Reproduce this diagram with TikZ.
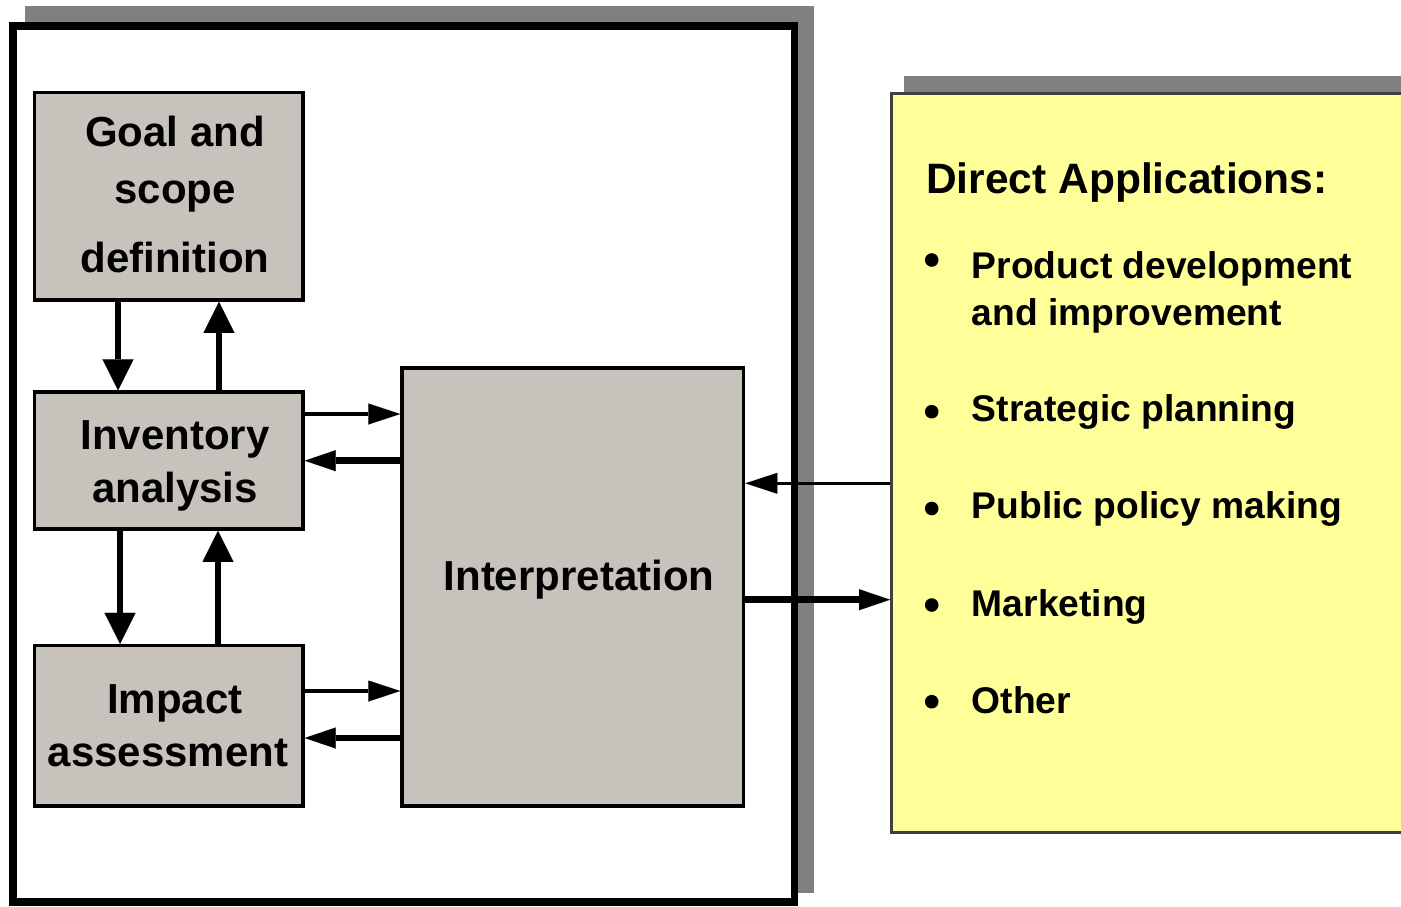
\documentclass[tikz,border=0pt]{standalone}
\usepackage{fontspec}
\setmainfont{Liberation Sans}
\usetikzlibrary{arrows.meta}
\definecolor{boxgray}{RGB}{200,194,189}
\definecolor{shade}{RGB}{128,128,128}
\definecolor{note}{RGB}{255,255,153}
\definecolor{noteedge}{RGB}{64,64,64}

\begin{document}
\begin{tikzpicture}[x=1pt,y=-1pt,
  stagebox/.style={draw=black, line width=3.5pt, fill=boxgray, rectangle, inner sep=0pt},
  boxtext/.style={inner sep=0pt, anchor=base},
  apptext/.style={inner sep=0pt, anchor=base west, font=\fontsize{37.2}{47}\selectfont\bfseries},
  vflow/.style={line width=6.5pt, -{Triangle[length=31pt,width=31pt,line width=0.01pt]}},
  hthin/.style={line width=3.5pt, -{Triangle[length=32pt,width=21pt,line width=0.01pt]}},
  hthick/.style={line width=6.5pt, -{Triangle[length=31pt,width=21pt,line width=0.01pt]}},
  dot/.style={fill=black}
]
\useasboundingbox (0,0) rectangle (1401,906);
\clip (0,0) rectangle (1401,906);
\fill[white] (0,0) rectangle (1401,906);

% framed LCA method panel with its drop shadow
\node[fill=shade, rectangle, inner sep=0pt, minimum width=789pt, minimum height=887pt] (frameshadow) at (419.5,449.5) {};
\node[draw=black, fill=white, line width=7.5pt, rectangle, inner sep=0pt, minimum width=781.5pt, minimum height=876pt] (frame) at (403.75,464) {};

% applications note with its drop shadow
\node[fill=shade, rectangle, inner sep=0pt, minimum width=506pt, minimum height=740pt, anchor=north west] (noteshadow) at (904,75.7) {};
\node[draw=noteedge, fill=note, line width=2.5pt, rectangle, inner sep=0pt, minimum width=520pt, minimum height=739pt, anchor=north west] (note) at (890,92) {};

% phase boxes
\node[stagebox, minimum width=268.5pt, minimum height=207.5pt] (goal) at (168.75,196.25) {};
\node[stagebox, minimum width=268.5pt, minimum height=137pt] (inv) at (168.75,460.5) {};
\node[stagebox, minimum width=268.5pt, minimum height=160.5pt] (impact) at (168.75,725.75) {};
\node[stagebox, minimum width=341.7pt, minimum height=438pt] (interp) at (572.85,587) {};

% phase labels
\node[boxtext, font=\fontsize{42}{57}\selectfont\bfseries] (goaltxt) at (175,146.7)
  {\begin{tabular}[t]{@{}c@{}}Goal and\\ scope\\[12pt] definition\end{tabular}};
\node[boxtext, font=\fontsize{42}{53}\selectfont\bfseries] (invtxt) at (175,449)
  {\begin{tabular}[t]{@{}c@{}}Inventory\\ analysis\end{tabular}};
\node[boxtext, font=\fontsize{42}{52.5}\selectfont\bfseries] (impacttxt) at (175,713.5)
  {\begin{tabular}[t]{@{}c@{}}Impact\\ assessment\hspace*{14pt}\end{tabular}};
\node[boxtext, font=\fontsize{42}{50}\selectfont\bfseries] (interptxt) at (579,590) {Interpretation};

% applications list
\node[inner sep=0pt, anchor=base west, font=\fontsize{42.5}{50}\selectfont\bfseries] (title) at (926,193) {Direct Applications:};
\node[apptext] (app1) at (971.7,278) {\begin{tabular}[t]{@{}l@{}}Product development\\ and improvement\end{tabular}};
\node[apptext] (app2) at (971.7,421.7) {Strategic planning};
\node[apptext] (app3) at (971.7,518.3) {Public policy making};
\node[apptext] (app4) at (971.7,616.7) {Marketing};
\node[apptext] (app5) at (971.7,713.3) {Other};
\fill[dot] (931.7,260) circle[radius=6.8];
\fill[dot] (931.7,411.7) circle[radius=6.8];
\fill[dot] (931.7,508.5) circle[radius=6.8];
\fill[dot] (931.7,605) circle[radius=6.8];
\fill[dot] (931.7,701.7) circle[radius=6.8];

% guide coordinates for the connectors
\coordinate (xa) at (118,0);
\coordinate (xb) at (219,0);
\coordinate (xc) at (120,0);
\coordinate (xd) at (218,0);
\coordinate (ya) at (0,414);
\coordinate (yb) at (0,460.7);
\coordinate (yc) at (0,691);
\coordinate (yd) at (0,738);
\coordinate (ye) at (0,483.3);
\coordinate (yf) at (0,599.7);

% iterations between phases
\draw[vflow] (goal.south -| xa) -- (inv.north -| xa);
\draw[vflow] (inv.north -| xb) -- (goal.south -| xb);
\draw[vflow] (inv.south -| xc) -- (impact.north -| xc);
\draw[vflow] (impact.north -| xd) -- (inv.south -| xd);

% exchanges with interpretation
\draw[hthin] (inv.east |- ya) -- (interp.west |- ya);
\draw[hthick] (interp.west |- yb) -- (inv.east |- yb);
\draw[hthin] (impact.east |- yc) -- (interp.west |- yc);
\draw[hthick] (interp.west |- yd) -- (impact.east |- yd);

% links to the applications
\draw[hthin] (note.west |- ye) -- (interp.east |- ye);
\draw[hthick] (interp.east |- yf) -- (note.west |- yf);
\end{tikzpicture}
\end{document}
